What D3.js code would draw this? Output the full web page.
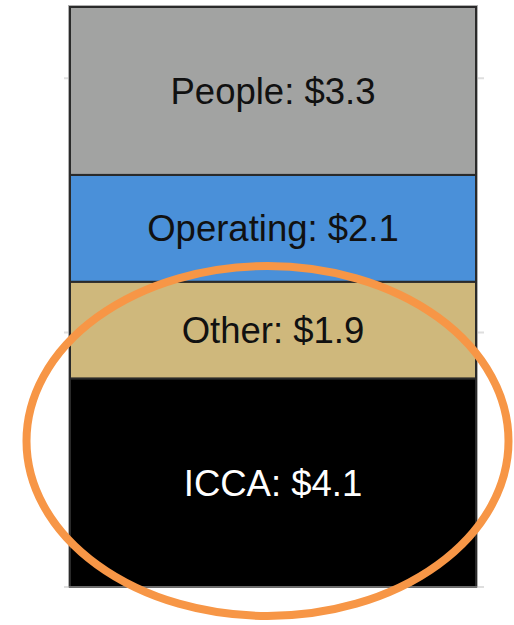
<!DOCTYPE html>
<html>
<head>
<meta charset="utf-8">
<script src="https://cdn.jsdelivr.net/npm/d3@7"></script>
<style>
  html, body { margin: 0; padding: 0; background: #fff; }
  svg { display: block; }
  .label { font-family: "Liberation Sans", Helvetica, Arial, sans-serif; font-size: 36.5px; }
</style>
</head>
<body>
<div class="chart"></div>
<script>
// stacked from bottom to top
var categories = ["ICCA", "Other", "Operating", "People"];
var values = [4.1, 1.9, 2.1, 3.3];
var colors = ["#000000", "#cfb87c", "#4a90d9", "#a2a3a2"];
var textColors = ["#ffffff", "#111111", "#111111", "#111111"];
var gridTicks = [0, 5, 10];

var width = 514, height = 625;

var svg = d3.select(".chart").append("svg")
    .attr("width", width)
    .attr("height", height);

// build stack data
var stackRow = {};
categories.forEach(function(c, i) { stackRow[c] = values[i]; });
var series = d3.stack().keys(categories)([stackRow]);

var total = d3.sum(values);

var y = d3.scaleLinear()
    .domain([0, total])
    .range([587, 7]);

var x = d3.scaleBand()
    .domain(["total"])
    .range([70, 476]);

// gridlines
svg.selectAll(".grid")
    .data(gridTicks)
  .enter().append("line")
    .attr("class", "grid")
    .attr("x1", x.range()[0] - 6)
    .attr("x2", x.range()[1] + 8)
    .attr("y1", function(d) { return y(d); })
    .attr("y2", function(d) { return y(d); })
    .style("stroke", "#dedede")
    .style("stroke-width", 2);

// segments
svg.selectAll(".seg")
    .data(series)
  .enter().append("rect")
    .attr("class", "seg")
    .attr("x", x("total"))
    .attr("width", x.bandwidth())
    .attr("y", function(d) { return y(d[0][1]); })
    .attr("height", function(d) { return y(d[0][0]) - y(d[0][1]); })
    .style("fill", function(d, i) { return colors[i]; })
    .style("stroke", "#2a2a2a")
    .style("stroke-width", 2);

// outer edge of the bar
svg.append("rect")
    .attr("x", x("total") - 1.5)
    .attr("width", x.bandwidth() + 3)
    .attr("y", y(total) - 1.5)
    .attr("height", y(0) - y(total) + 1.5)
    .style("fill", "none")
    .style("stroke", "#b0b0b0")
    .style("stroke-width", 1);

// labels
svg.selectAll(".label")
    .data(series)
  .enter().append("text")
    .attr("class", "label")
    .attr("x", x("total") + x.bandwidth() / 2)
    .attr("y", function(d) { return (y(d[0][0]) + y(d[0][1])) / 2; })
    .attr("dy", "0.36em")
    .attr("text-anchor", "middle")
    .style("fill", function(d, i) { return textColors[i]; })
    .text(function(d, i) { return categories[i] + ": $" + values[i].toFixed(1); });

// highlight ellipse around ICCA + Other
svg.append("ellipse")
    .attr("cx", 267.5)
    .attr("cy", 441)
    .attr("rx", 241)
    .attr("ry", 175)
    .style("fill", "none")
    .style("stroke", "#f79646")
    .style("stroke-width", 8);
</script>
</body>
</html>
